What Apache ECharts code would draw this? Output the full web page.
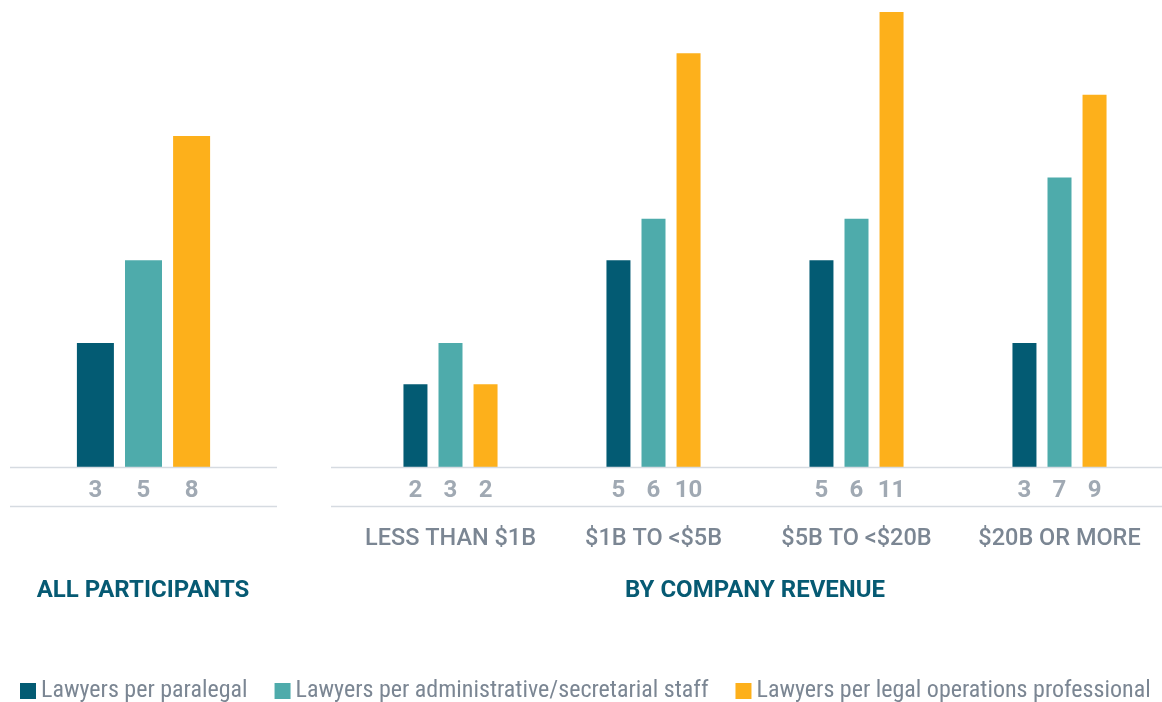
<!DOCTYPE html>
<html>
<head>
<meta charset="utf-8">
<script src="https://cdn.jsdelivr.net/npm/echarts@6/dist/echarts.min.js"></script>
<style>
  html, body { margin: 0; padding: 0; background: #fff; }
  #chart { width: 1162px; height: 702px; }
</style>
</head>
<body>
<div id="chart"></div>
<script>
const seriesNames = [
  'Lawyers per paralegal',
  'Lawyers per administrative/secretarial staff',
  'Lawyers per legal operations professional'
]
const colors = ['#035b73', '#4eabab', '#fdb01b']

// all participants
const allCategory = ['']
const allParalegal = [3]
const allAdmin = [5]
const allLegalOps = [8]

// by company revenue
const revenueCategories = ['LESS THAN $1B', '$1B TO <$5B', '$5B TO <$20B', '$20B OR MORE']
const revParalegal = [2, 5, 5, 3]
const revAdmin = [3, 6, 6, 7]
const revLegalOps = [2, 10, 11, 9]

const chart = echarts.init(document.getElementById('chart'))

const numLabel = {
  show: true,
  position: 'bottom',
  distance: 12,
  color: '#a0a9b3',
  fontFamily: 'Roboto',
  fontWeight: 'bold',
  fontSize: 24
}
const lineColor = '#d6dbe1'
const legendFont = "'Roboto Condensed', 'Liberation Sans Narrow', 'DejaVu Sans Condensed', Roboto"
const titleStyle = { color: '#065a73', fontSize: 24, fontWeight: 'bold', fontFamily: 'Roboto' }

function bars(data, axis, width, gap) {
  return data.map((d, i) => ({
    name: seriesNames[i],
    type: 'bar',
    xAxisIndex: axis,
    yAxisIndex: axis,
    data: d,
    barWidth: width,
    barGap: gap,
    itemStyle: { color: colors[i] },
    label: numLabel,
    silent: true
  }))
}

const option = {
  animation: false,
  textStyle: { fontFamily: 'Roboto' },
  title: [
    { text: 'ALL PARTICIPANTS', left: 138, top: 574, textAlign: 'center', textStyle: titleStyle },
    { text: 'BY COMPANY REVENUE', left: 750, top: 574, textAlign: 'center', textStyle: titleStyle }
  ],
  legend: {
    data: seriesNames,
    left: 15, top: 674,
    icon: 'rect',
    itemWidth: 16, itemHeight: 16,
    itemGap: 27,
    textStyle: { color: '#7b8693', fontSize: 24, fontFamily: legendFont },
    selectedMode: false
  },
  grid: [
    { left: 10, top: 12, width: 267, height: 455 },
    { left: 349, top: 12, width: 812, height: 455 }
  ],
  xAxis: [
    {
      type: 'category', gridIndex: 0, data: allCategory,
      axisLine: { show: false }, axisTick: { show: false }, axisLabel: { show: false }
    },
    {
      type: 'category', gridIndex: 1, data: revenueCategories,
      axisLine: { show: false }, axisTick: { show: false },
      axisLabel: { interval: 0, margin: 60, color: '#7b8693', fontSize: 23.5, fontWeight: 500, fontFamily: 'Roboto' }
    }
  ],
  yAxis: [
    { type: 'value', gridIndex: 0, min: 0, max: 11, show: false },
    { type: 'value', gridIndex: 1, min: 0, max: 11, show: false }
  ],
  graphic: [
    { type: 'line', shape: { x1: 10, y1: 467.5, x2: 277, y2: 467.5 }, style: { stroke: lineColor, lineWidth: 1.5 }, z: 10 },
    { type: 'line', shape: { x1: 10, y1: 506.5, x2: 277, y2: 506.5 }, style: { stroke: lineColor, lineWidth: 1.5 } },
    { type: 'line', shape: { x1: 331, y1: 467.5, x2: 1162, y2: 467.5 }, style: { stroke: lineColor, lineWidth: 1.5 }, z: 10 },
    { type: 'line', shape: { x1: 331, y1: 506.5, x2: 1162, y2: 506.5 }, style: { stroke: lineColor, lineWidth: 1.5 } }
  ],
  series: [
    ...bars([allParalegal, allAdmin, allLegalOps], 0, 37, '30%'),
    ...bars([revParalegal, revAdmin, revLegalOps], 1, 24, '46%')
  ]
}

chart.setOption(option)
</script>
</body>
</html>
